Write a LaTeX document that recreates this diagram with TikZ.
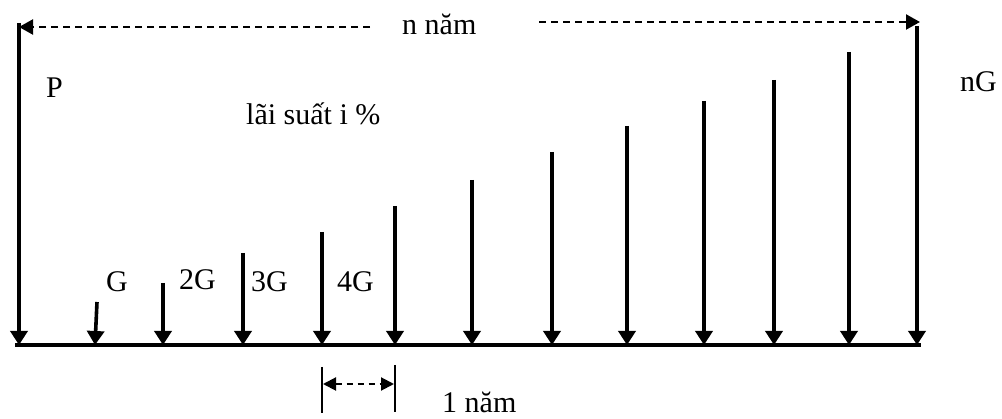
\documentclass[tikz,border=0pt]{standalone}
\usepackage{fontspec}
\setmainfont{Liberation Serif}
\usetikzlibrary{arrows.meta}
\begin{document}
\begin{tikzpicture}[x=1pt,y=-1pt,
  flow/.style={line width=3.6pt,-{Triangle[width=17pt,length=14pt]}},
  axis/.style={line width=3.5pt},
  span/.style={line width=2.2pt,dash pattern=on 7pt off 5pt},
  spanhead/.style={-{Triangle[width=15pt,length=14pt]}},
  tick/.style={line width=2pt},
  lbl/.style={anchor=base west,inner sep=0pt,font=\fontsize{30}{34}\selectfont}]
\useasboundingbox (0,0) rectangle (1002,419);
% axis
\coordinate (a0) at (15,345);
\coordinate (a1) at (921,345);
\draw[axis] (a0) -- (a1);
% cash-flow arrows
\foreach \i/\x/\y in {1/19/23,3/163/283,4/243/253,5/322/232,6/395/206,7/472/180,8/552/152,9/627/126,10/704/101,11/774/80,12/849/52,13/917/26}{
  \coordinate (t\i) at (\x,\y);
  \coordinate (b\i) at (\x,345);
  \draw[flow] (t\i) -- (b\i);
}
\coordinate (t2) at (97,302);
\coordinate (b2) at (95,345);
\draw[flow] (t2) -- (b2);
% top span n nam
\coordinate (l0) at (370,27);
\coordinate (l1) at (19,27);
\draw[span,spanhead] (l0) -- (l1);
\coordinate (r0) at (539,22);
\coordinate (r1) at (920,22);
\draw[span,spanhead] (r0) -- (r1);
\node[lbl] (nn) at (402,35) {n năm};
% labels
\node[lbl] (P) at (46,98) {P};
\node[lbl] (ls) at (246,125) {lãi suất i \%};
\node[lbl] (nG) at (960,92) {nG};
\node[lbl] (G1) at (106,292) {G};
\node[lbl] (G2) at (179,290) {2G};
\node[lbl] (G3) at (251,292) {3G};
\node[lbl] (G4) at (337,292) {4G};
% one-year bracket
\coordinate (k0) at (322,367);
\coordinate (k1) at (322,413);
\coordinate (k2) at (395,365);
\coordinate (k3) at (395,412);
\draw[tick] (k0) -- (k1);
\draw[tick] (k2) -- (k3);
\coordinate (m0) at (323,384);
\coordinate (m1) at (394,384);
\draw[line width=2pt,dash pattern=on 6pt off 5pt,{Triangle[width=13pt,length=13pt]}-{Triangle[width=13pt,length=13pt]}] (m0) -- (m1);
\node[lbl,text depth=0pt] (one) at (442,413) {1 năm};
\end{tikzpicture}
\end{document}
